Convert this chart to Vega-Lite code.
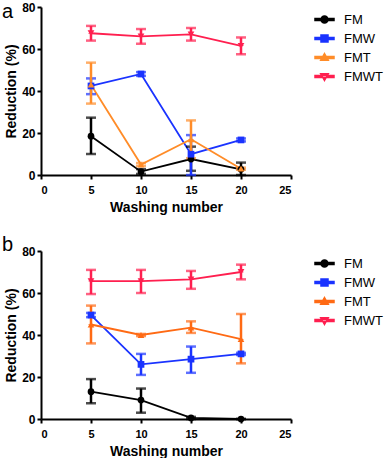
{
  "$schema": "https://vega.github.io/schema/vega-lite/v6.json",
  "padding": {"left": 2, "top": 1, "right": 0, "bottom": 0},
  "background": "white",
  "config": {
    "font": "Liberation Sans",
    "view": {"stroke": null},
    "axis": {
      "domainColor": "black", "domainWidth": 2, "tickColor": "black", "tickWidth": 2, "tickSize": 4,
      "labelFont": "Liberation Sans", "labelFontWeight": "bold", "labelFontSize": 11, "labelColor": "black", "labelPadding": 2,
      "titleFont": "Liberation Sans", "titleFontWeight": "bold", "titleFontSize": 14, "titleColor": "black",
      "grid": false
    },
    "axisX": {"labelPadding": 5, "titlePadding": 5},
    "axisY": {"labelFontSize": 12, "titlePadding": 3},
    "legend": {
      "labelFont": "Liberation Sans", "labelFontSize": 13, "labelColor": "black",
      "symbolSize": 361, "labelOffset": 9, "rowPadding": 1, "offset": 21, "padding": 2, "symbolOpacity": 1
    }
  },
  "data": {"values": [
    {"panel": "a", "series": "FM", "x": 5, "y": 18.5, "lo": 10, "hi": 27.3},
    {"panel": "a", "series": "FM", "x": 10, "y": 1.6, "lo": 0.5, "hi": 2.8},
    {"panel": "a", "series": "FM", "x": 15, "y": 7.6, "lo": 2, "hi": 13.5},
    {"panel": "a", "series": "FM", "x": 20, "y": 2.7, "lo": 0, "hi": 5.9},
    {"panel": "a", "series": "FMW", "x": 5, "y": 42.4, "lo": 38.5, "hi": 46},
    {"panel": "a", "series": "FMW", "x": 10, "y": 48.1, "lo": 47.2, "hi": 49},
    {"panel": "a", "series": "FMW", "x": 15, "y": 9.9, "lo": 0, "hi": 19},
    {"panel": "a", "series": "FMW", "x": 20, "y": 16.7, "lo": 16, "hi": 17.4},
    {"panel": "a", "series": "FMT", "x": 5, "y": 43, "lo": 34, "hi": 53.5},
    {"panel": "a", "series": "FMT", "x": 10, "y": 5, "lo": 4.3, "hi": 5.7},
    {"panel": "a", "series": "FMT", "x": 15, "y": 17, "lo": 8, "hi": 26},
    {"panel": "a", "series": "FMT", "x": 20, "y": 3, "lo": 2.5, "hi": 3.5},
    {"panel": "a", "series": "FMWT", "x": 5, "y": 67.5, "lo": 64, "hi": 71},
    {"panel": "a", "series": "FMWT", "x": 10, "y": 66, "lo": 62.5, "hi": 69.5},
    {"panel": "a", "series": "FMWT", "x": 15, "y": 67, "lo": 64, "hi": 70},
    {"panel": "a", "series": "FMWT", "x": 20, "y": 61.5, "lo": 57.5, "hi": 65.5},
    {"panel": "b", "series": "FM", "x": 5, "y": 13, "lo": 7.5, "hi": 19},
    {"panel": "b", "series": "FM", "x": 10, "y": 9, "lo": 3, "hi": 14.5},
    {"panel": "b", "series": "FM", "x": 15, "y": 0.5, "lo": 0, "hi": 1},
    {"panel": "b", "series": "FM", "x": 20, "y": 0, "lo": 0, "hi": 0},
    {"panel": "b", "series": "FMW", "x": 5, "y": 49.5, "lo": 48.5, "hi": 50.5},
    {"panel": "b", "series": "FMW", "x": 10, "y": 26, "lo": 21, "hi": 31},
    {"panel": "b", "series": "FMW", "x": 15, "y": 28.5, "lo": 22, "hi": 34.5},
    {"panel": "b", "series": "FMW", "x": 20, "y": 31, "lo": 30.5, "hi": 31.5},
    {"panel": "b", "series": "FMT", "x": 5, "y": 45, "lo": 36, "hi": 54},
    {"panel": "b", "series": "FMT", "x": 10, "y": 40, "lo": 39.5, "hi": 40.5},
    {"panel": "b", "series": "FMT", "x": 15, "y": 43.5, "lo": 41, "hi": 46.5},
    {"panel": "b", "series": "FMT", "x": 20, "y": 38, "lo": 26.5, "hi": 50},
    {"panel": "b", "series": "FMWT", "x": 5, "y": 65.7, "lo": 59.5, "hi": 71},
    {"panel": "b", "series": "FMWT", "x": 10, "y": 65.7, "lo": 60, "hi": 71},
    {"panel": "b", "series": "FMWT", "x": 15, "y": 66.5, "lo": 62, "hi": 70.5},
    {"panel": "b", "series": "FMWT", "x": 20, "y": 70, "lo": 66.5, "hi": 73.5}
  ]},
  "spacing": 21,
  "resolve": {"scale": {"color": "independent", "shape": "independent"}},
  "vconcat": [
    {
      "transform": [{"filter": "datum.panel === 'a'"}],
      "width": 250, "height": 168,
      "encoding": {
        "x": {"field": "x", "type": "quantitative", "scale": {"domain": [0, 25]}, "axis": {"values": [0, 5, 10, 15, 20, 25], "title": "Washing number"}},
        "y": {"field": "y", "type": "quantitative", "title": "Reduction (%)", "scale": {"domain": [0, 80]}, "axis": {"values": [0, 20, 40, 60, 80], "title": "Reduction (%)"}},
        "color": {"field": "series", "type": "nominal", "sort": ["FM", "FMW", "FMT", "FMWT"],
          "scale": {"domain": ["FM", "FMW", "FMT", "FMWT"], "range": ["#000000", "#1a33ff", "#ff8c28", "#ff1f4f"]},
          "legend": {"title": null}},
        "shape": {"field": "series", "type": "nominal", "sort": ["FM", "FMW", "FMT", "FMWT"],
          "scale": {"domain": ["FM", "FMW", "FMT", "FMWT"], "range": [
            "M-1,-0.1H1V0.1H-1ZM0.37,0A0.37,0.37 0 1 1 -0.37,0A0.37,0.37 0 1 1 0.37,0Z",
            "M-1,-0.1H1V0.1H-1ZM-0.37,-0.37H0.37V0.37H-0.37Z",
            "M-1,-0.1H1V0.1H-1ZM0,-0.42L0.4,0.3H-0.4Z",
            "M-1,-0.1H1V0.1H-1ZM0,0.42L0.4,-0.3H-0.4Z"]},
          "legend": {"title": null}}
      },
      "layer": [
        {"mark": {"type": "line", "strokeWidth": 1.8}},
        {"mark": {"type": "errorbar", "ticks": {"size": 10, "thickness": 2.5}, "thickness": 2.5}, "encoding": {"y": {"field": "lo", "type": "quantitative", "title": "Reduction (%)"}, "y2": {"field": "hi"}}},
        {"mark": {"type": "point", "filled": true, "size": 45, "opacity": 1}, "encoding": {
          "shape": {"condition": [{"test": "datum.series === 'FM'", "value": "circle"}, {"test": "datum.series === 'FMW'", "value": "square"}, {"test": "datum.series === 'FMT'", "value": "triangle-up"}], "value": "triangle-down"}}},
        {"transform": [{"filter": "false"}], "mark": {"type": "point", "filled": true, "opacity": 1}},
        {"transform": [{"filter": "datum.series === 'FM' && datum.x === 5"}], "mark": {"type": "text", "text": "a", "font": "Liberation Sans", "fontSize": 20, "align": "left", "baseline": "alphabetic"},
          "encoding": {"x": {"datum": -3.9}, "y": {"datum": 74.8}, "color": {"value": "black"}}}
      ]
    },
    {
      "transform": [{"filter": "datum.panel === 'b'"}],
      "width": 250, "height": 168,
      "encoding": {
        "x": {"field": "x", "type": "quantitative", "scale": {"domain": [0, 25]}, "axis": {"values": [0, 5, 10, 15, 20, 25], "title": "Washing number"}},
        "y": {"field": "y", "type": "quantitative", "title": "Reduction (%)", "scale": {"domain": [0, 80]}, "axis": {"values": [0, 20, 40, 60, 80], "title": "Reduction (%)"}},
        "color": {"field": "series", "type": "nominal", "sort": ["FM", "FMW", "FMT", "FMWT"],
          "scale": {"domain": ["FM", "FMW", "FMT", "FMWT"], "range": ["#000000", "#1a33ff", "#ff6a14", "#ff1f4f"]},
          "legend": {"title": null}},
        "shape": {"field": "series", "type": "nominal", "sort": ["FM", "FMW", "FMT", "FMWT"],
          "scale": {"domain": ["FM", "FMW", "FMT", "FMWT"], "range": [
            "M-1,-0.1H1V0.1H-1ZM0.37,0A0.37,0.37 0 1 1 -0.37,0A0.37,0.37 0 1 1 0.37,0Z",
            "M-1,-0.1H1V0.1H-1ZM-0.37,-0.37H0.37V0.37H-0.37Z",
            "M-1,-0.1H1V0.1H-1ZM0,-0.42L0.4,0.3H-0.4Z",
            "M-1,-0.1H1V0.1H-1ZM0,0.42L0.4,-0.3H-0.4Z"]},
          "legend": {"title": null}}
      },
      "layer": [
        {"mark": {"type": "line", "strokeWidth": 1.8}},
        {"mark": {"type": "errorbar", "ticks": {"size": 10, "thickness": 2.5}, "thickness": 2.5}, "encoding": {"y": {"field": "lo", "type": "quantitative", "title": "Reduction (%)"}, "y2": {"field": "hi"}}},
        {"mark": {"type": "point", "filled": true, "size": 45, "opacity": 1}, "encoding": {
          "shape": {"condition": [{"test": "datum.series === 'FM'", "value": "circle"}, {"test": "datum.series === 'FMW'", "value": "square"}, {"test": "datum.series === 'FMT'", "value": "triangle-up"}], "value": "triangle-down"}}},
        {"transform": [{"filter": "false"}], "mark": {"type": "point", "filled": true, "opacity": 1}},
        {"transform": [{"filter": "datum.series === 'FM' && datum.x === 5"}], "mark": {"type": "text", "text": "b", "font": "Liberation Sans", "fontSize": 20, "align": "left", "baseline": "alphabetic"},
          "encoding": {"x": {"datum": -3.9}, "y": {"datum": 80}, "color": {"value": "black"}}}
      ]
    }
  ]
}
